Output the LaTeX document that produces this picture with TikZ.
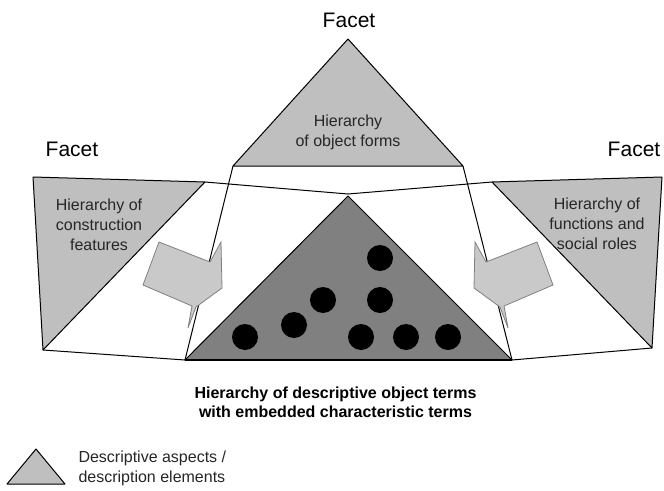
\documentclass[tikz,border=0pt]{standalone}
\usepackage{fontspec}
\setmainfont{Liberation Sans}
\usetikzlibrary{calc, positioning}

\tikzset{
	facet/.style={font=\fontsize{21}{25}\selectfont},
	hier/.style={align=center, font=\fontsize{16}{20}\selectfont, text=black!85},
	aspect/.style={fill=black!25, draw=black, line width=1pt, line join=round},
	blockarrow/.style={fill=black!21, draw=black!50, line width=0.8pt, line join=miter},
	term/.style={circle, fill=black, inner sep=0pt, minimum size=26pt}
}

\begin{document}
\begin{tikzpicture}[x=1pt, y=-1pt]
	\useasboundingbox (0,0) rectangle (664,490);

	% the three facets
	\draw [aspect] (348,39) -- (233,166) -- (463,166) -- cycle;
	\draw [aspect] (33,177) -- (205,182) -- (43,350) -- cycle;
	\draw [aspect] (662,177) -- (492,182) -- (652,348) -- cycle;

	% planes between the facets and the term hierarchy
	\draw [line width=1pt, line join=round] (205,182) -- (348,194) -- (492,182);
	\draw [line width=1pt] (43,350) -- (185,360);
	\draw [line width=1pt] (652,348) -- (512,360);
	\draw [line width=1pt] (233,166) -- (185,360);
	\draw [line width=1pt] (463,166) -- (512,360);

	% hierarchy of descriptive object terms
	\draw [fill=black!50, line width=1pt, line join=round] (348,196) -- (185,360) -- (512,360) -- cycle;
	\draw [line width=2.5pt] (185,360) -- (512,360);
	\foreach \x/\y [count=\i] in {380/258, 323/300, 380/300, 294/325, 245/337, 361/337, 406/337, 448/337}
		\node (t\i) [term] at (\x,\y) {};

	% arrows from the side facets
	\draw [blockarrow] (159,242) -- (210,262) -- (221,242) -- (222,288) -- (196,307) %
		-- (188,328) -- (192,306) -- (143,285) -- cycle;
	\draw [blockarrow] (537,242) -- (486,262) -- (475,242) -- (474,288) -- (500,307) %
		-- (508,328) -- (504,306) -- (553,285) -- cycle;

	% labels
	\node (ftop) [facet] at (349,20) {Facet};
	\node (fleft) [facet] at (72,149) {Facet};
	\node (fright) [facet] at (634,149) {Facet};

	\node (forms) [hier] at (348,132) {Hierarchy\\of object forms};
	\node (construction) [hier] at (99,225) {Hierarchy of\\construction\\features};
	\node (functions) [hier] at (597,224) {Hierarchy of\\functions and\\social roles};

	\node (terms) [align=center, font=\fontsize{16}{19.5}\bfseries\selectfont] at (335.5,402.5) %
		{Hierarchy of descriptive object terms\\with embedded characteristic terms};

	% legend
	\draw [aspect] (36,449) -- (7,484) -- (65,484) -- cycle;
	\node (legend) [hier, align=left, anchor=west] at (75,468) {Descriptive aspects /\\description elements};
\end{tikzpicture}
\end{document}
